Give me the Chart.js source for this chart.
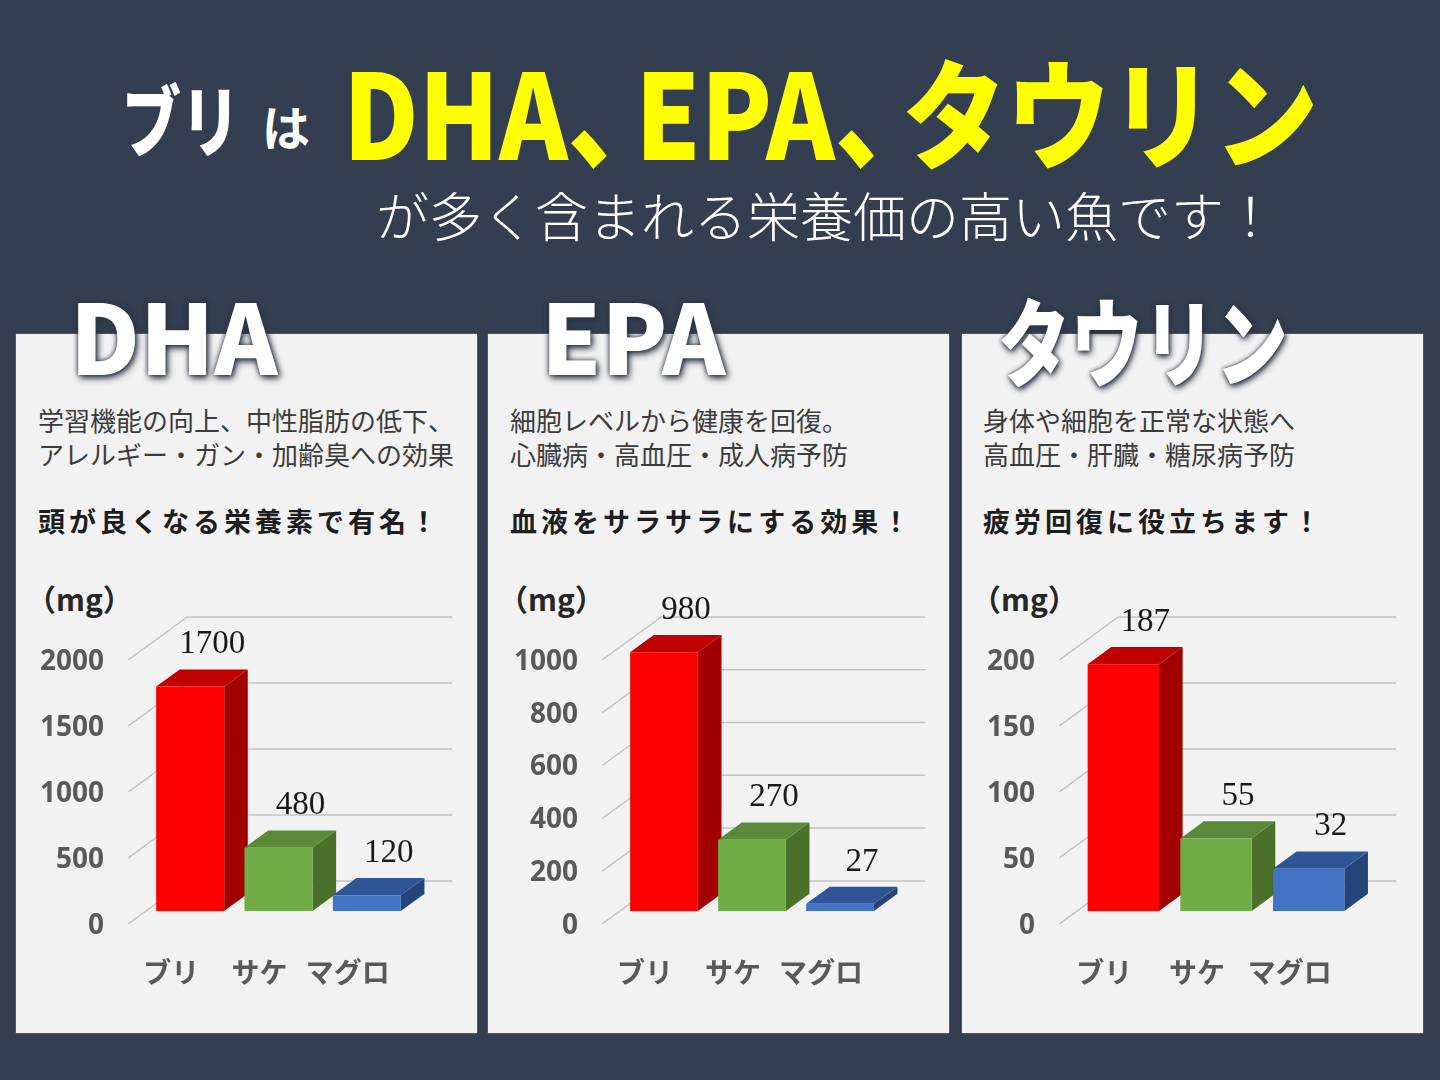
<!DOCTYPE html>
<html lang="ja">
<head>
<meta charset="utf-8">
<title>ブリの栄養</title>
<script src="https://cdn.jsdelivr.net/npm/chart.js@4.4.1/dist/chart.umd.min.js"></script>
<style>
  html, body { margin: 0; padding: 0; }
  body { width: 1440px; height: 1080px; background: #333e50; overflow: hidden; }
  #wrap { position: relative; width: 1440px; height: 1080px; font-family: "Noto Sans CJK JP", sans-serif; }
  .abs { position: absolute; white-space: nowrap; line-height: 1; transform-origin: 0 0; }
  .panel { position: absolute; top: 334px; width: 461px; height: 699px; background: #f2f2f2; box-shadow: 0 0 1px #c8cfdb; }
  .head { color: #fff; font-weight: 900; font-size: 96px; text-shadow: 0 0 5px #2b3444, 2px 3px 7px #2b3444; }
  .desc { color: #3c3c3c; font-size: 26px; font-weight: 400; }
  .catch { color: #1e1e1e; font-size: 27px; font-weight: 700; letter-spacing: 4px; }
  .unit { color: #262626; font-size: 30px; font-weight: 700; }
  canvas { position: absolute; top: 560px; }
</style>
</head>
<body>
<div id="wrap">
  <div class="abs" style="left:122px;top:78px;color:#fff;font-size:78px;font-weight:900;" id="t1">ブリ</div>
  <div class="abs" style="left:262px;top:101px;color:#fff;font-size:48px;font-weight:700;">は</div>
  <div class="abs" style="left:343px;top:50px;color:#ffff00;font-size:118px;font-weight:900;" id="t2">DHA<span style="margin-right:-0.35em">、</span>EPA<span style="margin-right:-0.35em">、</span>タウリン</div>
  <div class="abs" style="left:376px;top:188px;color:#fff;font-size:53px;font-weight:300;">が多く含まれる栄養価の高い魚です！</div>

  <div class="panel" style="left:16px;"></div>
  <div class="panel" style="left:488px;"></div>
  <div class="panel" style="left:962px;"></div>

  <div class="abs head" style="left:70px;top:286px;">DHA</div>
  <div class="abs head" style="left:541px;top:286px;">EPA</div>
  <div class="abs head" style="left:998px;top:290px;" id="t3">タウリン</div>

  <div class="abs desc" style="left:38px;top:407px;">学習機能の向上、中性脂肪の低下、</div>
  <div class="abs desc" style="left:38px;top:441px;">アレルギー・ガン・加齢臭への効果</div>
  <div class="abs catch" style="left:38px;top:507px;">頭が良くなる栄養素で有名！</div>
  <div class="abs unit" style="left:26px;top:583px;">（mg）</div>

  <div class="abs desc" style="left:510px;top:407px;">細胞レベルから健康を回復。</div>
  <div class="abs desc" style="left:510px;top:441px;">心臓病・高血圧・成人病予防</div>
  <div class="abs catch" style="left:510px;top:507px;">血液をサラサラにする効果！</div>
  <div class="abs unit" style="left:498px;top:583px;">（mg）</div>

  <div class="abs desc" style="left:983px;top:407px;">身体や細胞を正常な状態へ</div>
  <div class="abs desc" style="left:983px;top:441px;">高血圧・肝臓・糖尿病予防</div>
  <div class="abs catch" style="left:983px;top:507px;">疲労回復に役立ちます！</div>
  <div class="abs unit" style="left:971px;top:583px;">（mg）</div>

  <canvas id="c1" width="461" height="460" style="left:16px;"></canvas>
  <canvas id="c2" width="461" height="460" style="left:489px;"></canvas>
  <canvas id="c3" width="461" height="460" style="left:962px;"></canvas>
</div>
<script>
// data
const fish = ['ブリ', 'サケ', 'マグロ'];
const dhaValues = [1700, 480, 120];
const epaValues = [980, 270, 27];
const taurineValues = [187, 55, 32];
const dhaTicks = [0, 500, 1000, 1500, 2000];
const epaTicks = [0, 200, 400, 600, 800, 1000];
const taurineTicks = [0, 50, 100, 150, 200];

// 3d look
const DEPTH_X = 59, DEPTH_Y = 43, FRONT = 0.3, BAR_DEPTH = 0.4;
const frontColors = ['#ff0000', '#70ad47', '#4472c4'];
const topColors = ['#c00000', '#5a8a38', '#2f5597'];
const sideColors = ['#a00000', '#4a7029', '#264478'];

// squeeze the condensed titles to their width in the picture
function fit(id, w) {
  const el = document.getElementById(id);
  el.style.transform = 'scaleX(' + (w / el.offsetWidth) + ')';
}
fit('t1', 118);
fit('t2', 975);
fit('t3', 290);

const box3d = {
  id: 'box3d',
  beforeDatasetsDraw(chart) {
    const { ctx, chartArea: a, scales: { y } } = chart;
    const fx = DEPTH_X * FRONT, fy = DEPTH_Y * FRONT;
    const bx = DEPTH_X * (1 - FRONT), by = DEPTH_Y * (1 - FRONT);
    ctx.save();
    ctx.lineWidth = 1.5;
    ctx.strokeStyle = '#c4c4c4';
    y.ticks.forEach(t => {
      const py = y.getPixelForValue(t.value);
      ctx.beginPath();
      ctx.moveTo(a.left - fx, py + fy);
      ctx.lineTo(a.left + bx, py - by);
      ctx.lineTo(a.right + bx, py - by);
      ctx.stroke();
    });
    // side and top faces, fronts are drawn by chart.js afterwards
    const dx = DEPTH_X * BAR_DEPTH, dy = DEPTH_Y * BAR_DEPTH;
    chart.getDatasetMeta(0).data.forEach((bar, i) => {
      const l = bar.x - bar.width / 2, r = bar.x + bar.width / 2;
      ctx.fillStyle = sideColors[i];
      ctx.beginPath();
      ctx.moveTo(r, bar.y); ctx.lineTo(r + dx, bar.y - dy);
      ctx.lineTo(r + dx, bar.base - dy); ctx.lineTo(r, bar.base);
      ctx.closePath(); ctx.fill();
      ctx.fillStyle = topColors[i];
      ctx.beginPath();
      ctx.moveTo(l, bar.y); ctx.lineTo(l + dx, bar.y - dy);
      ctx.lineTo(r + dx, bar.y - dy); ctx.lineTo(r, bar.y);
      ctx.closePath(); ctx.fill();
    });
    ctx.restore();
  },
  afterDatasetsDraw(chart) {
    const { ctx } = chart;
    const vals = chart.data.datasets[0].data;
    ctx.save();
    ctx.fillStyle = '#1a1a1a';
    ctx.font = '33px "Liberation Serif", serif';
    ctx.textAlign = 'center';
    ctx.textBaseline = 'middle';
    chart.getDatasetMeta(0).data.forEach((bar, i) => {
      ctx.fillText(String(vals[i]), bar.x + 22, bar.y - 42);
    });
    ctx.restore();
  }
};

function makeChart(id, values, ticks, leftW, rightPad) {
  return new Chart(document.getElementById(id), {
    type: 'bar',
    data: {
      labels: fish,
      datasets: [{ data: values, backgroundColor: frontColors, borderWidth: 0,
        barPercentage: 0.77, categoryPercentage: 1 }]
    },
    options: {
      responsive: false,
      animation: false,
      layout: { padding: { top: 87, right: rightPad, bottom: 0, left: 0 } },
      plugins: { legend: { display: false }, tooltip: { enabled: false } },
      scales: {
        x: {
          grid: { display: false, drawTicks: false },
          border: { display: false },
          ticks: { color: '#595959', padding: 45, labelOffset: -19,
            autoSkip: false, maxRotation: 0, minRotation: 0,
            font: { family: '"Noto Sans CJK JP", sans-serif', size: 28, weight: 'bold' } },
          afterFit: s => { s.height = 109; }
        },
        y: {
          min: ticks[0], max: ticks[ticks.length - 1],
          grid: { display: false, drawTicks: false },
          border: { display: false },
          ticks: { color: '#595959', padding: 42, labelOffset: DEPTH_Y * FRONT + 2,
            font: { family: '"Noto Sans", sans-serif', size: 28, weight: 'bold' },
            callback: v => String(v) },
          afterBuildTicks: s => { s.ticks = ticks.map(v => ({ value: v })); },
          afterFit: s => { s.width = leftW; }
        }
      }
    },
    plugins: [box3d]
  });
}

makeChart('c1', dhaValues, dhaTicks, 130, 66);
makeChart('c2', epaValues, epaTicks, 131, 66);
makeChart('c3', taurineValues, taurineTicks, 115, 68);
</script>
</body>
</html>
